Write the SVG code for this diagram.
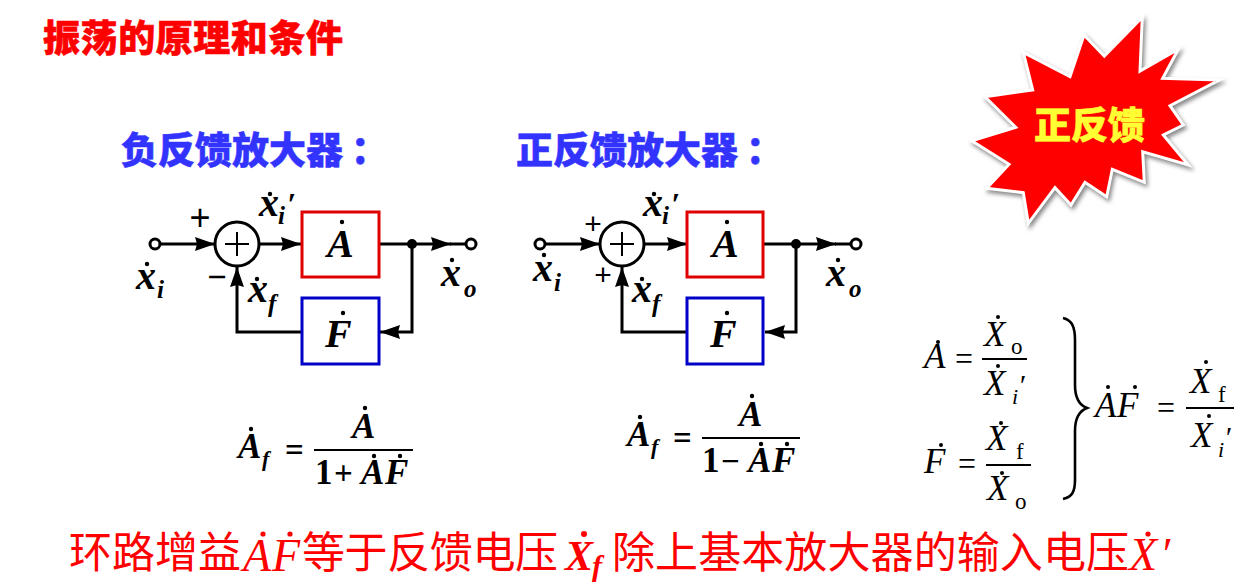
<svg xmlns="http://www.w3.org/2000/svg" width="1247" height="585" viewBox="0 0 1247 585">
<style>
.cjkb{font-family:"Noto Sans CJK SC",sans-serif;font-weight:900}
.title{font-size:37px;fill:#f00;stroke:#f00;stroke-width:.6}
.head{font-size:37px;fill:#3333ff;stroke:#3333ff;stroke-width:.5}
.bot{font-family:"Liberation Serif","Noto Sans CJK SC",serif;font-size:43px;fill:#f00}
.it{font-style:italic;font-size:46px}
.bi{font-family:"Liberation Serif",serif;font-style:italic;font-weight:700;fill:#000}
.v{font-size:40px}.s{font-size:25px}.p{font-size:32px}
.fn{font-size:35px}.fs{font-size:22px}
.m{font-family:"Liberation Serif",serif;font-style:italic;fill:#000;font-size:35px}
.ms{font-family:"Liberation Serif",serif;font-style:italic;fill:#000;font-size:22px}
.mp{font-family:"Liberation Serif",serif;font-style:italic;fill:#000;font-size:30px}
.mr{font-family:"Liberation Serif",serif;fill:#000;font-size:23px}
.op{font-family:"Liberation Serif",serif;fill:#000;font-size:33px}
.sg{font-family:"Liberation Sans",sans-serif;fill:#000;font-size:36px;text-anchor:middle}
.w{stroke:#000;stroke-width:3;fill:none}
.cross{stroke:#000;stroke-width:2;fill:none}
.fl{stroke:#000;stroke-width:1.8}
.boxa{fill:#fff;stroke:#e00000;stroke-width:3}
.boxf{fill:#fff;stroke:#0000c8;stroke-width:3}
.term{fill:#fff;stroke:#000;stroke-width:3}
.sum{fill:#fff;stroke:#000;stroke-width:3}
.d{fill:#000}
.rd{fill:#f00}
</style>
<defs>
<marker id="ah" markerUnits="userSpaceOnUse" markerWidth="20" markerHeight="14" refX="20" refY="7" orient="auto"><path d="M0 0L20 7L0 14L2 7Z" fill="#000"/></marker>
<filter id="sh" x="-10%" y="-10%" width="120%" height="120%"><feGaussianBlur stdDeviation="2"/></filter>
</defs>
<rect width="1247" height="585" fill="#fff"/>

<text id="title" class="cjkb title" x="43" y="52" textLength="300">振荡的原理和条件</text>
<text id="head-neg" class="cjkb head" x="121" y="164">负反馈放大器<tspan dx="8">：</tspan></text>
<text id="head-pos" class="cjkb head" x="516" y="164">正反馈放大器<tspan dx="8">：</tspan></text>

<g id="burst">
<polygon points="1142.3,17.3 1140,71 1178.3,49.3 1162.7,78.3 1219.3,80 1170,105.7 1183.3,125 1163.3,135 1188.3,165 1142.7,151.7 1144.3,182.3 1112.3,169.3 1106.7,196.7 1085,182.3 1071,205 1055,187.7 1028.3,223.3 1023.3,192.7 986.7,188.3 1009,164.3 971.7,140.7 1015.7,127.3 985,96.7 1032.7,90 1023.3,52.3 1070,76.7 1084,35 1104.3,56" fill="#888" stroke="#888" stroke-width="3" transform="translate(2,3)" filter="url(#sh)"/>
<polygon points="1142.3,17.3 1140,71 1178.3,49.3 1162.7,78.3 1219.3,80 1170,105.7 1183.3,125 1163.3,135 1188.3,165 1142.7,151.7 1144.3,182.3 1112.3,169.3 1106.7,196.7 1085,182.3 1071,205 1055,187.7 1028.3,223.3 1023.3,192.7 986.7,188.3 1009,164.3 971.7,140.7 1015.7,127.3 985,96.7 1032.7,90 1023.3,52.3 1070,76.7 1084,35 1104.3,56" fill="#f00" stroke="#fff" stroke-width="3"/>
<text class="cjkb" x="1034" y="139" font-size="37" fill="#ffff33" stroke="#ffff33" stroke-width=".6">正反馈</text>
</g>

<g id="connectors">
<path class="w" d="M159 244H215" marker-end="url(#ah)"/>
<path class="w" d="M259 244H301" marker-end="url(#ah)"/>
<path class="w" d="M379 244H451" marker-end="url(#ah)"/>
<path class="w" d="M450 244H467"/>
<path class="w" d="M412 244V332H380" marker-end="url(#ah)"/>
<path class="w" d="M302 332H237V267" marker-end="url(#ah)"/>
<circle class="d" cx="412" cy="244" r="5"/>
<path class="w" d="M544 244H600" marker-end="url(#ah)"/>
<path class="w" d="M644 244H687" marker-end="url(#ah)"/>
<path class="w" d="M764 244H836" marker-end="url(#ah)"/>
<path class="w" d="M835 244H852"/>
<path class="w" d="M796 244V332H765" marker-end="url(#ah)"/>
<path class="w" d="M687 332H622V267" marker-end="url(#ah)"/>
<circle class="d" cx="796" cy="244" r="5"/>
</g>

<g id="neg-in"><circle class="term" cx="155" cy="244" r="5"/></g>
<g id="neg-out"><circle class="term" cx="471" cy="244" r="5"/></g>
<g id="neg-sum"><circle class="sum" cx="237" cy="244" r="22"/><path class="cross" d="M225 244H249M237 232V256"/></g>
<g id="neg-a"><rect class="boxa" x="302" y="212" width="77" height="65"/><text class="bi v" x="327" y="257">A</text><circle class="d" cx="342" cy="222" r="2.2"/></g>
<g id="neg-f"><rect class="boxf" x="302" y="298" width="77" height="66"/><text class="bi v" x="325" y="347">F</text><circle class="d" cx="343" cy="313" r="2.2"/></g>
<g id="neg-labels">
<text class="sg" x="200" y="230">+</text><text class="sg" x="217" y="288" style="font-size:33px">−</text>
<text class="bi v" x="259" y="216">x</text><circle class="d" cx="270" cy="194" r="2.2"/><text class="bi s" x="278" y="224">i</text><text class="bi p" x="287" y="215">′</text>
<text class="bi v" x="136" y="289">x</text><circle class="d" cx="147" cy="264" r="2.2"/><text class="bi s" x="157" y="298">i</text>
<text class="bi v" x="248" y="302">x</text><circle class="d" cx="257" cy="279" r="2.2"/><text class="bi s" x="268" y="312">f</text>
<text class="bi v" x="441" y="286">x</text><circle class="d" cx="452" cy="260" r="2.2"/><text class="bi s" x="464" y="297">o</text>
</g>

<g id="pos-in"><circle class="term" cx="540" cy="244" r="5"/></g>
<g id="pos-out"><circle class="term" cx="856" cy="244" r="5"/></g>
<g id="pos-sum"><circle class="sum" cx="622" cy="244" r="22"/><path class="cross" d="M610 244H634M622 232V256"/></g>
<g id="pos-a"><rect class="boxa" x="687" y="212" width="76" height="65"/><text class="bi v" x="712" y="257">A</text><circle class="d" cx="727" cy="222" r="2.2"/></g>
<g id="pos-f"><rect class="boxf" x="687" y="298" width="76" height="66"/><text class="bi v" x="710" y="347">F</text><circle class="d" cx="727" cy="313" r="2.2"/></g>
<g id="pos-labels">
<text class="sg" x="593" y="234" style="font-size:30px">+</text><text class="sg" x="603" y="285" style="font-size:30px">+</text>
<text class="bi v" x="643" y="216">x</text><circle class="d" cx="654" cy="194" r="2.2"/><text class="bi s" x="662" y="224">i</text><text class="bi p" x="671" y="215">′</text>
<text class="bi v" x="533" y="281">x</text><circle class="d" cx="544" cy="255" r="2.2"/><text class="bi s" x="554" y="291">i</text>
<text class="bi v" x="632" y="302">x</text><circle class="d" cx="642" cy="279" r="2.2"/><text class="bi s" x="652" y="312">f</text>
<text class="bi v" x="826" y="286">x</text><circle class="d" cx="838" cy="260" r="2.2"/><text class="bi s" x="849" y="297">o</text>
</g>

<g id="formula-neg">
<text class="bi fn" x="238" y="458">A</text><circle class="d" cx="251" cy="429" r="2.2"/><text class="bi fs" x="262" y="466">f</text>
<text class="op" font-weight="700" x="285" y="461">=</text>
<path class="fl" d="M314 450H413"/>
<text class="bi fn" x="352" y="438">A</text><circle class="d" cx="365" cy="408" r="2.2"/>
<text class="bi fn" style="font-style:normal" x="315" y="484">1</text><text class="op" font-weight="700" x="334" y="484">+</text>
<text class="bi fn" x="361" y="484">A</text><circle class="d" cx="374" cy="456" r="2.2"/>
<text class="bi fn" x="385" y="484">F</text><circle class="d" cx="400" cy="456" r="2.2"/>
</g>
<g id="formula-pos">
<text class="bi fn" x="627" y="446">A</text><circle class="d" cx="640" cy="417" r="2.2"/><text class="bi fs" x="651" y="454">f</text>
<text class="op" font-weight="700" x="673" y="449">=</text>
<path class="fl" d="M702 438H800"/>
<text class="bi fn" x="739" y="426">A</text><circle class="d" cx="752" cy="396" r="2.2"/>
<text class="bi fn" style="font-style:normal" x="702" y="472">1</text><text class="op" font-weight="700" x="721" y="472">−</text>
<text class="bi fn" x="748" y="472">A</text><circle class="d" cx="761" cy="444" r="2.2"/>
<text class="bi fn" x="772" y="472">F</text><circle class="d" cx="787" cy="444" r="2.2"/>
</g>

<g id="formula-right">
<text class="m" x="924" y="368">A</text><circle class="d" cx="938" cy="342" r="2"/>
<text class="op" x="955" y="370" textLength="18" lengthAdjust="spacingAndGlyphs">=</text>
<path class="fl" d="M982 359H1027"/>
<text class="m" x="984" y="346">X</text><circle class="d" cx="998" cy="317" r="2"/><text class="mr" x="1011" y="354">o</text>
<text class="m" x="984" y="395">X</text><circle class="d" cx="998" cy="366" r="2"/><text class="ms" x="1012" y="404">i</text><text class="mp" x="1018" y="395">′</text>

<text class="m" x="924" y="473">F</text><circle class="d" cx="941" cy="445" r="2"/>
<text class="op" x="958" y="475" textLength="18" lengthAdjust="spacingAndGlyphs">=</text>
<path class="fl" d="M986 465H1031"/>
<text class="m" x="986" y="450">X</text><circle class="d" cx="1001" cy="423" r="2"/><text class="mr" x="1016" y="459">f</text>
<text class="m" x="987" y="500">X</text><circle class="d" cx="1002" cy="473" r="2"/><text class="mr" x="1015" y="509">o</text>

<path d="M1063 318C1072 320 1075 327 1075 340V385C1075 398 1079 405 1087 408C1079 411 1075 418 1075 431V480C1075 492 1072 497 1063 499" fill="none" stroke="#000" stroke-width="2.6"/>

<text class="m" x="1095" y="417">A</text><circle class="d" cx="1108" cy="387" r="2"/>
<text class="m" x="1117" y="417">F</text><circle class="d" cx="1135" cy="387" r="2"/>
<text class="op" x="1157" y="419" textLength="18" lengthAdjust="spacingAndGlyphs">=</text>
<path class="fl" d="M1186 408H1234"/>
<text class="m" x="1190" y="393">X</text><circle class="d" cx="1206" cy="362" r="2"/><text class="mr" x="1218" y="402">f</text>
<text class="m" x="1191" y="447">X</text><circle class="d" cx="1209" cy="416" r="2"/><text class="ms" x="1218" y="457">i</text><text class="mp" x="1224" y="447">′</text>
</g>

<g id="bottom">
<text class="bot" x="69" y="568" textLength="172">环路增益</text>
<text class="bot it" x="243" y="571">A</text><circle class="rd" cx="263" cy="534" r="2.6"/>
<text class="bot it" x="272" y="571">F</text><circle class="rd" cx="290" cy="534" r="2.6"/>
<text class="bot" x="302" y="568" textLength="256">等于反馈电压</text>
<text class="bot" x="565" y="570" font-style="italic" font-weight="700" style="font-size:42px">X</text><circle class="rd" cx="584" cy="534" r="3"/>
<text class="bot" x="592" y="576" font-style="italic" font-weight="700" style="font-size:30px">f</text>
<text class="bot" x="612" y="568" textLength="517">除上基本放大器的输入电压</text>
<text class="bot it" x="1129" y="570">X</text><circle class="rd" cx="1148" cy="534" r="2.6"/>
<text class="bot it" x="1160" y="570">′</text>
</g>
</svg>
